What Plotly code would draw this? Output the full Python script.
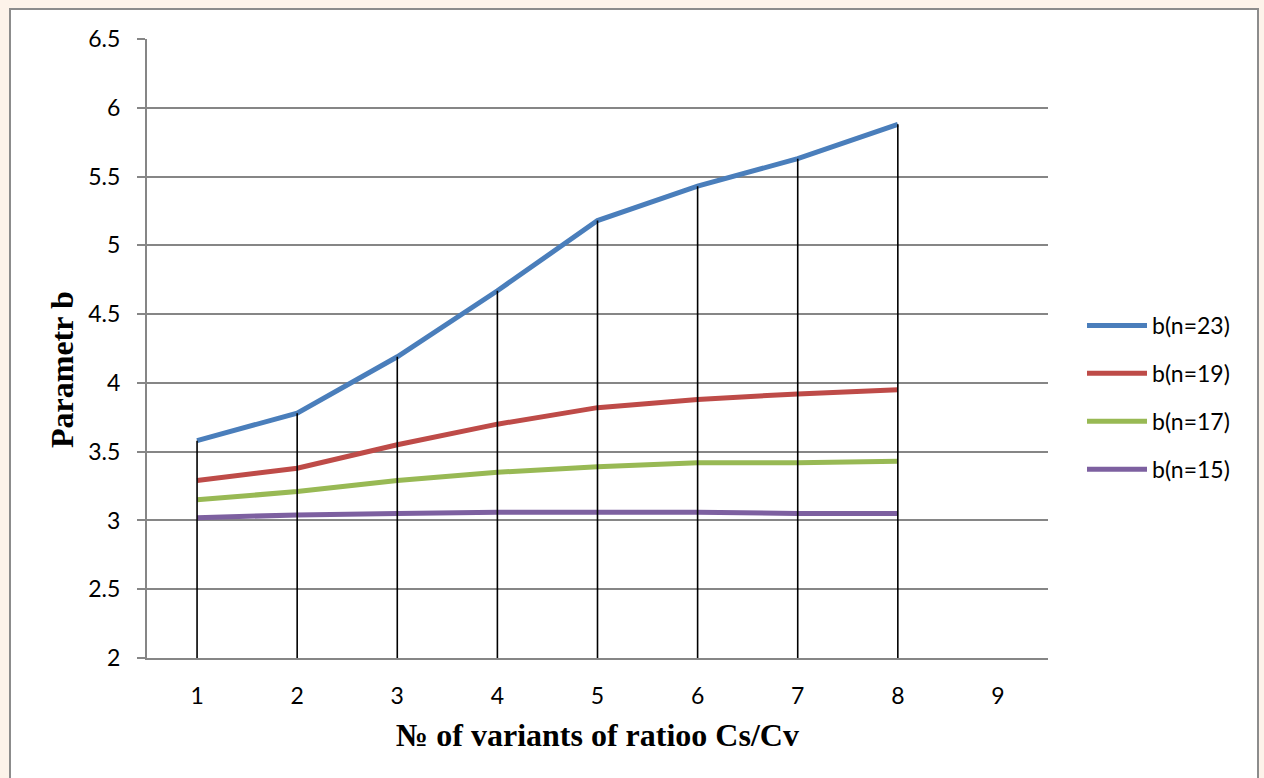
import plotly.graph_objects as go

# Variant numbers of the Cs/Cv ratio (axis shows 1..9)
variants = [1, 2, 3, 4, 5, 6, 7, 8]
axis_ticks = [1, 2, 3, 4, 5, 6, 7, 8, 9]

# Parameter b for different sample sizes n
b_n23 = [3.58, 3.78, 4.19, 4.67, 5.18, 5.43, 5.63, 5.88]
b_n19 = [3.29, 3.38, 3.55, 3.70, 3.82, 3.88, 3.92, 3.95]
b_n17 = [3.15, 3.21, 3.29, 3.35, 3.39, 3.42, 3.42, 3.43]
b_n15 = [3.02, 3.04, 3.05, 3.06, 3.06, 3.06, 3.05, 3.05]

series = [
    ("b(n=23)", b_n23, "#4A7EBB"),
    ("b(n=19)", b_n19, "#BE4B48"),
    ("b(n=17)", b_n17, "#98B954"),
    ("b(n=15)", b_n15, "#7D60A0"),
]

Y_MIN, Y_MAX = 2, 6.5

fig = go.Figure()
for i, (name, vals, color) in enumerate(series):
    fig.add_trace(go.Scatter(
        x=variants, y=vals, name=name, mode="lines",
        line=dict(color=color, width=5),
        legendgroup=f"g{i}",
    ))

# Drop lines from the highest series down to the horizontal axis
drop_x, drop_y = [], []
for xv, yv in zip(variants, b_n23):
    drop_x += [xv, xv, None]
    drop_y += [yv, Y_MIN, None]
fig.add_trace(go.Scatter(
    x=drop_x, y=drop_y, mode="lines",
    line=dict(color="black", width=1.6),
    showlegend=False, hoverinfo="skip",
))

W, H = 1264, 778
L, R, T, B = 147, 216, 39, 120
pw, ph = W - L - R, H - T - B

def px_x(p):
    return (p - L) / pw

def px_y(p):
    return (H - B - p) / ph

# White chart frame on the tinted page
fig.add_shape(type="rect", xref="paper", yref="paper",
              x0=px_x(10), x1=px_x(1258), y0=px_y(800), y1=px_y(9),
              fillcolor="white", line=dict(color="#8C8C8C", width=2),
              layer="below")

tick_font = dict(family="Lato, 'Open Sans', sans-serif", size=23, color="black")
title_font = dict(family="'Liberation Serif', 'Times New Roman', serif", size=32, color="black")

# Vertical axis title, placed as a rotated annotation
fig.add_annotation(
    text="<b>Parametr b</b>", textangle=-90,
    xref="paper", yref="paper", x=px_x(62), y=px_y(370),
    xanchor="center", yanchor="middle", showarrow=False,
    font=title_font,
)

fig.update_layout(
    width=W, height=H,
    margin=dict(l=L, r=R, t=T, b=B),
    paper_bgcolor="#FDF3EA",
    plot_bgcolor="white",
    showlegend=True,
    legend=dict(
        x=px_x(1082), y=px_y(304), xanchor="left", yanchor="top",
        font=dict(family="Lato, 'Open Sans', sans-serif", size=23, color="black"),
        traceorder="grouped", tracegroupgap=15,
        itemwidth=60, bgcolor="rgba(0,0,0,0)",
    ),
    xaxis=dict(
        range=[0.5, 9.5], tickmode="array", tickvals=axis_ticks,
        showgrid=False, zeroline=False,
        showline=True, linecolor="#868686", linewidth=2,
        ticks="", tickfont=tick_font, ticklabelstandoff=16,
        title=dict(text="<b>№ of variants of ratioo Cs/Cv</b>", font=title_font, standoff=16),
    ),
    yaxis=dict(
        range=[Y_MIN, Y_MAX], tickmode="linear", tick0=2, dtick=0.5,
        showgrid=True, gridcolor="#868686", gridwidth=2,
        zeroline=False,
        showline=True, linecolor="#868686", linewidth=2,
        ticks="outside", ticklen=8, tickcolor="#868686", tickwidth=2,
        tickfont=tick_font, ticklabelstandoff=12,
    ),
)

fig.write_html("out.html")
